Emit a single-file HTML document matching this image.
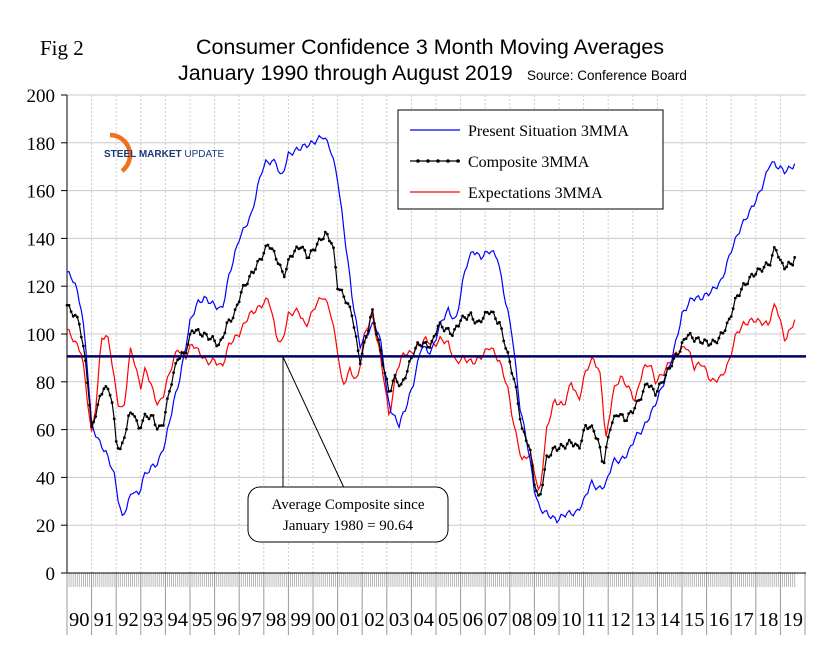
<!DOCTYPE html>
<html><head><meta charset="utf-8"><style>
body{margin:0;background:#fff;}
svg{display:block;font-family:"Liberation Serif",serif;}
</style></head><body>
<svg id="s" width="820" height="655" xmlns="http://www.w3.org/2000/svg">
<rect width="820" height="655" fill="#fff"/>
<g id="grid"></g>
<text x="40" y="55" font-size="21">Fig 2</text>
<text x="430" y="54" font-size="21.5" font-family="Liberation Sans,sans-serif" text-anchor="middle">Consumer Confidence 3 Month Moving Averages</text>
<text x="178" y="80" font-size="21.5" font-family="Liberation Sans,sans-serif">January 1990 through August 2019</text>
<text x="527" y="80" font-size="13.5" font-family="Liberation Sans,sans-serif">Source: Conference Board</text>
<g id="series"></g>
<rect x="398" y="110" width="265" height="99" fill="#fff" stroke="#000" stroke-width="1"/>
<line x1="410" y1="130" x2="460" y2="130" stroke="#0000ff" stroke-width="1.2"/>
<text x="468" y="136" font-size="16">Present Situation 3MMA</text>
<line x1="410" y1="161" x2="460" y2="161" stroke="#000" stroke-width="1.2"/>
<circle cx="418" cy="161" r="1.8"/><circle cx="428" cy="161" r="1.8"/><circle cx="438" cy="161" r="1.8"/><circle cx="448" cy="161" r="1.8"/><circle cx="458" cy="161" r="1.8"/>
<text x="468" y="167" font-size="16">Composite 3MMA</text>
<line x1="410" y1="192" x2="460" y2="192" stroke="#ff0000" stroke-width="1.2"/>
<text x="468" y="198" font-size="16">Expectations 3MMA</text>
<path d="M110 135 A20 20 0 0 1 122 171" fill="none" stroke="#f07020" stroke-width="4.5"/>
<text x="104" y="157" font-size="10" font-family="Liberation Sans,sans-serif" font-weight="bold" fill="#1a3a7a">STEEL MARKET <tspan font-weight="normal">UPDATE</tspan></text>
<path d="M283 357 L283 490 M283 357 L345 490" stroke="#000" stroke-width="1" fill="none"/>
<rect x="248" y="487" width="200" height="55" rx="12" fill="#fff" stroke="#000"/>
<text x="348" y="509" font-size="15" text-anchor="middle">Average Composite since</text>
<text x="348" y="530" font-size="15" text-anchor="middle">January 1980 = 90.64</text>
</svg>
<script>
const NS="http://www.w3.org/2000/svg";
const X0=67,XW=24.6,Y0=573,YS=2.39;
const X=t=>X0+(t-1990)*XW, Y=v=>Y0-v*YS;
const g=document.getElementById('grid'),s=document.getElementById('series');
function el(p,n,a,txt){const e=document.createElementNS(NS,n);for(const k in a)e.setAttribute(k,a[k]);if(txt!=null)e.textContent=txt;p.appendChild(e);return e;}
for(let v=0;v<=200;v+=20){
 if(v>0)el(g,'line',{x1:X0,x2:806,y1:Y(v),y2:Y(v),stroke:'#c8c8c8','stroke-width':1});
 el(g,'line',{x1:X0-6,x2:X0,y1:Y(v),y2:Y(v),stroke:'#000'});
 el(g,'text',{x:X0-12,y:Y(v)+7,'font-size':19,'text-anchor':'end'},v);
}
for(let m=0;m<=355;m++){el(g,'line',{x1:X(1990+m/12),x2:X(1990+m/12),y1:Y0,y2:Y0+14,stroke:'#aaa','stroke-width':0.8});}
for(let yr=0;yr<=30;yr++){
 const x=X(1990+yr);
 if(yr>0&&yr<30)el(g,'line',{x1:x,x2:x,y1:95,y2:Y0,stroke:'#ccc','stroke-dasharray':'2,2'});
 el(g,'line',{x1:x,x2:x,y1:Y0,y2:635,stroke:'#999'});
 if(yr<30)el(g,'text',{x:x+XW/2,y:626,'font-size':20.5,'text-anchor':'middle'},String((90+yr)%100).padStart(2,'0'));
}
el(g,'line',{x1:X0,x2:X0,y1:95,y2:Y0,stroke:'#000'});
el(g,'line',{x1:X0,x2:806,y1:Y0,y2:Y0,stroke:'#000'});
const P=[[1990,126],[1990.3,122],[1990.6,110],[1990.8,90],[1991,62],[1991.3,55],[1991.6,50],[1991.9,42],[1992.1,30],[1992.25,23],[1992.5,30],[1992.7,35],[1992.9,32],[1993.1,40],[1993.4,44],[1993.7,46],[1994,55],[1994.3,70],[1994.6,82],[1995,105],[1995.3,113],[1995.6,115],[1996,112],[1996.3,110],[1996.6,125],[1997,140],[1997.5,150],[1997.9,168],[1998.1,172],[1998.5,172],[1998.7,165],[1999,175],[1999.5,178],[2000,180],[2000.4,183],[2000.7,178],[2001,165],[2001.3,140],[2001.6,115],[2001.9,95],[2002.2,100],[2002.5,105],[2002.8,95],[2003,75],[2003.2,67],[2003.5,62],[2003.8,70],[2004.1,80],[2004.4,95],[2004.8,92],[2005.2,105],[2005.5,110],[2005.8,105],[2006.2,128],[2006.5,135],[2006.8,132],[2007.2,135],[2007.5,132],[2007.8,115],[2008.1,100],[2008.4,70],[2008.7,55],[2009,35],[2009.2,27],[2009.5,25],[2009.9,22],[2010.3,25],[2010.7,25],[2011,30],[2011.3,38],[2011.6,35],[2011.9,37],[2012.2,47],[2012.5,47],[2012.8,50],[2013.1,57],[2013.4,60],[2013.8,68],[2014.2,78],[2014.6,90],[2015,108],[2015.4,115],[2015.8,115],[2016.2,118],[2016.6,122],[2017,135],[2017.4,145],[2017.8,152],[2018.2,160],[2018.6,172],[2018.9,170],[2019.2,168],[2019.6,171]];
const C=[[1990,112],[1990.5,105],[1990.8,85],[1991,60],[1991.3,72],[1991.5,78],[1991.8,75],[1992,55],[1992.2,51],[1992.5,65],[1992.7,68],[1992.9,60],[1993.2,66],[1993.5,65],[1993.7,60],[1993.9,62],[1994.2,78],[1994.5,90],[1994.8,92],[1995.1,102],[1995.5,100],[1995.9,98],[1996.2,95],[1996.5,104],[1996.8,108],[1997.1,118],[1997.5,125],[1997.9,132],[1998.2,138],[1998.6,130],[1998.8,124],[1999.1,133],[1999.5,137],[1999.8,132],[2000.2,138],[2000.5,142],[2000.8,138],[2001,120],[2001.3,115],[2001.6,108],[2001.9,88],[2002.2,100],[2002.4,110],[2002.6,100],[2002.9,85],[2003.1,75],[2003.3,82],[2003.6,78],[2003.9,87],[2004.2,95],[2004.4,96],[2004.8,95],[2005.1,104],[2005.4,102],[2005.7,100],[2006,106],[2006.4,108],[2006.7,104],[2006.9,107],[2007.2,110],[2007.6,104],[2007.9,92],[2008.2,80],[2008.5,60],[2008.8,53],[2009,38],[2009.2,30],[2009.5,48],[2009.8,52],[2010.2,53],[2010.5,55],[2010.8,52],[2011.1,62],[2011.4,60],[2011.6,55],[2011.8,45],[2012.1,62],[2012.4,67],[2012.7,64],[2013,68],[2013.3,73],[2013.6,80],[2013.9,75],[2014.2,80],[2014.6,88],[2014.9,93],[2015.2,100],[2015.5,98],[2015.8,97],[2016.2,96],[2016.5,98],[2016.9,105],[2017.2,115],[2017.5,120],[2017.9,125],[2018.2,127],[2018.6,130],[2018.8,137],[2019,130],[2019.2,128],[2019.5,130],[2019.6,132]];
const E=[[1990,102],[1990.3,97],[1990.6,92],[1990.8,75],[1991,58],[1991.2,72],[1991.4,99],[1991.7,98],[1991.9,82],[1992.1,70],[1992.3,68],[1992.6,95],[1992.8,85],[1993,78],[1993.2,86],[1993.4,79],[1993.7,70],[1993.9,74],[1994.2,85],[1994.5,94],[1994.8,90],[1995.1,96],[1995.4,92],[1995.7,88],[1996,89],[1996.3,86],[1996.6,96],[1997,100],[1997.4,108],[1997.8,111],[1998.2,115],[1998.5,100],[1998.7,95],[1999,108],[1999.4,110],[1999.7,103],[2000.1,112],[2000.4,116],[2000.7,110],[2001,93],[2001.2,78],[2001.5,85],[2001.8,80],[2002.1,100],[2002.4,108],[2002.7,93],[2002.9,80],[2003.1,65],[2003.4,85],[2003.7,92],[2004,92],[2004.3,95],[2004.6,98],[2004.9,95],[2005.2,98],[2005.5,96],[2005.8,88],[2006.1,90],[2006.5,88],[2006.8,90],[2007.2,95],[2007.6,88],[2007.9,78],[2008.2,60],[2008.5,47],[2008.8,50],[2009,43],[2009.2,32],[2009.5,60],[2009.8,72],[2010.2,70],[2010.5,80],[2010.8,72],[2011.1,85],[2011.4,90],[2011.7,82],[2011.9,55],[2012.2,76],[2012.5,82],[2012.8,78],[2013.1,72],[2013.4,85],[2013.7,88],[2013.9,80],[2014.2,83],[2014.6,90],[2014.9,93],[2015.2,95],[2015.5,86],[2015.8,88],[2016.2,80],[2016.6,82],[2016.9,88],[2017.2,100],[2017.5,104],[2017.9,106],[2018.2,105],[2018.5,104],[2018.8,113],[2019,105],[2019.2,97],[2019.4,102],[2019.6,106]];
function monthly(a){const r=[];for(let m=0;m<=355;m++){const t=1990+m/12;if(t>a[a.length-1][0]+0.001)break;let i=0;while(i<a.length-2&&a[i+1][0]<t)i++;const [t0,v0]=a[i],[t1,v1]=a[i+1];const f=Math.max(0,Math.min(1,(t-t0)/(t1-t0)));r.push([t,v0+(v1-v0)*f+Math.sin(m*1.7)*1.2]);}return r;}
function line(a,col){const m=monthly(a);el(s,'polyline',{points:m.map(p=>X(p[0]).toFixed(1)+','+Y(p[1]).toFixed(1)).join(' '),fill:'none',stroke:col,'stroke-width':1.2});return m;}
line(E,'#ff0000');line(P,'#0000ff');
const cm=line(C,'#000');cm.forEach(p=>el(s,'circle',{cx:X(p[0]).toFixed(1),cy:Y(p[1]).toFixed(1),r:1.4}));
el(s,'line',{x1:X0,x2:806,y1:Y(90.64),y2:Y(90.64),stroke:'#000066','stroke-width':2.5});
</script>
</body></html>
